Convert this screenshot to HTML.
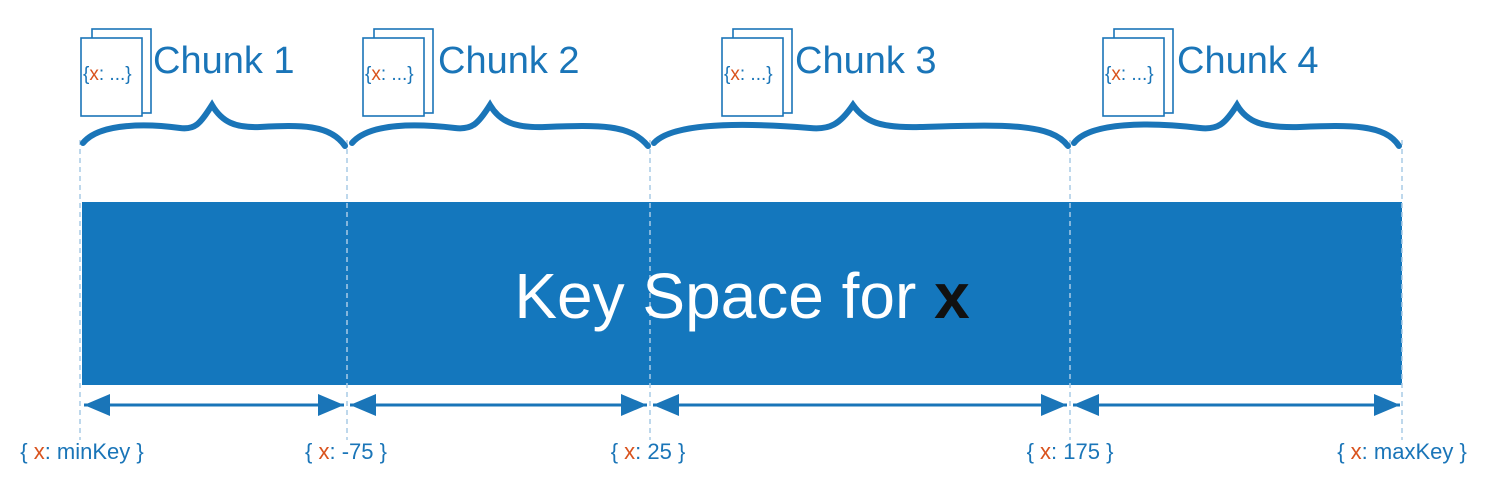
<!DOCTYPE html>
<html><head><style>body{margin:0;background:#fff}svg{display:block}</style></head>
<body>
<svg width="1494" height="488" viewBox="0 0 1494 488" xmlns="http://www.w3.org/2000/svg" font-family="Liberation Sans, sans-serif">
<defs>
<g id="doc">
<rect x="11" y="-9" width="59" height="84" fill="#fff" stroke="#1a75b8" stroke-width="1.6"/>
<rect x="0" y="0" width="61" height="78" fill="#fff" stroke="#1a75b8" stroke-width="1.6"/>
<text x="2" y="42" font-size="19" fill="#1a75b8">{<tspan fill="#d9531e">x</tspan>: ...}</text>
</g>
</defs>
<rect x="82" y="202" width="1320" height="183" fill="#1477bd"/>
<g stroke="#a9cbe6" stroke-width="1.5" stroke-dasharray="5,4">
<line x1="80" y1="140" x2="80" y2="440"/><line x1="347" y1="140" x2="347" y2="440"/>
<line x1="650" y1="140" x2="650" y2="440"/><line x1="1070" y1="140" x2="1070" y2="440"/>
<line x1="1402" y1="140" x2="1402" y2="440"/>
</g>
<text x="742" y="318" font-size="64" fill="#fff" text-anchor="middle">Key Space for <tspan fill="#111" font-weight="bold">x</tspan></text>
<g stroke="#1a75b8" stroke-width="3" fill="#1a75b8">
<path d="M84,405 H344" /><path d="M350,405 H647"/><path d="M653,405 H1067"/><path d="M1073,405 H1400"/>
</g>
<g fill="#1a75b8">
<path d="M84,405 l26,-11 v22z"/><path d="M344,405 l-26,-11 v22z"/>
<path d="M350,405 l26,-11 v22z"/><path d="M647,405 l-26,-11 v22z"/>
<path d="M653,405 l26,-11 v22z"/><path d="M1067,405 l-26,-11 v22z"/>
<path d="M1073,405 l26,-11 v22z"/><path d="M1400,405 l-26,-11 v22z"/>
</g>
<g stroke="#1a75b8" stroke-width="6" fill="none" stroke-linecap="round">
<path d="M83,143 C100,122 150,124 180,128 C195,130 200,124 212,105 C222,122 235,128 260,127 C300,125 330,124 345,146"/>
<path d="M352,143 C370,122 420,124 455,128 C472,130 478,124 490,105 C500,122 515,128 545,127 C600,125 630,124 648,146"/>
<path d="M654,143 C675,120 760,124 810,128 C830,130 840,124 853,105 C865,122 880,128 920,127 C1000,125 1050,122 1068,146"/>
<path d="M1074,143 C1090,122 1150,122 1200,128 C1218,130 1225,124 1237,105 C1247,122 1262,128 1300,127 C1350,125 1385,124 1399,146"/>
</g>
<use href="#doc" x="81" y="38"/><use href="#doc" x="363" y="38"/><use href="#doc" x="722" y="38"/><use href="#doc" x="1103" y="38"/>
<g font-size="38" fill="#1a75b8">
<text x="153" y="73">Chunk 1</text><text x="438" y="73">Chunk 2</text><text x="795" y="73">Chunk 3</text><text x="1177" y="73">Chunk 4</text>
</g>
<g font-size="22" fill="#1a75b8" text-anchor="middle">
<text x="82" y="459">{ <tspan fill="#d9531e">x</tspan>: minKey }</text>
<text x="346" y="459">{ <tspan fill="#d9531e">x</tspan>: -75 }</text>
<text x="648" y="459">{ <tspan fill="#d9531e">x</tspan>: 25 }</text>
<text x="1070" y="459">{ <tspan fill="#d9531e">x</tspan>: 175 }</text>
<text x="1402" y="459">{ <tspan fill="#d9531e">x</tspan>: maxKey }</text>
</g>
</svg>
</body></html>
